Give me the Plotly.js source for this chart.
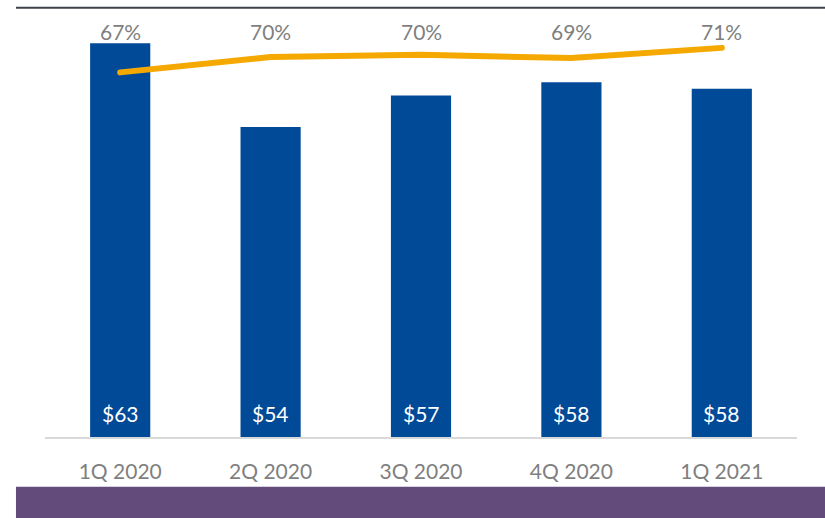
<!DOCTYPE html>
<html>
<head>
<meta charset="utf-8">
<script src="https://cdn.plot.ly/plotly-3.0.1.min.js"></script>
<style>
  html, body { margin: 0; padding: 0; background: #ffffff; }
  #chart { width: 825px; height: 518px; }
  .scatterlayer .js-line { stroke-linecap: round; }
</style>
</head>
<body>
<div id="chart"></div>
<script>
// Data
const categories = ["1Q 2020", "2Q 2020", "3Q 2020", "4Q 2020", "1Q 2021"];
const revenue = [62.6, 53.6, 57.0, 58.4, 57.7];      // bars, $ (labels rounded)
const marginPct = [67.4, 69.6, 69.9, 69.45, 70.9];   // line, % (labels rounded)

const FONT = "Lato, 'Open Sans', 'DejaVu Sans', sans-serif";
const BAR_COLOR = "#004a98";
const LINE_COLOR = "#f5a800";
const GREY = "#7f7f7f";

const barTrace = {
  type: "bar",
  x: categories,
  y: revenue,
  marker: { color: BAR_COLOR },
  hoverinfo: "skip",
  yaxis: "y"
};

const lineTrace = {
  type: "scatter",
  mode: "lines",
  x: categories,
  y: marginPct,
  line: { color: LINE_COLOR, width: 6 },
  hoverinfo: "skip",
  yaxis: "y2"
};

const annotations = [];
categories.forEach((c, i) => {
  annotations.push({
    x: c, xref: "x", y: 0.949, yref: "paper",
    text: Math.round(marginPct[i]) + "%",
    showarrow: false, xanchor: "center", yanchor: "middle",
    font: { family: FONT, size: 21, color: GREY }
  });
  annotations.push({
    x: c, xref: "x", y: 0.0562, yref: "paper",
    text: "$" + Math.round(revenue[i]),
    showarrow: false, xanchor: "center", yanchor: "middle",
    font: { family: FONT, size: 21, color: "#ffffff" }
  });
});

const layout = {
  width: 825,
  height: 518,
  margin: { l: 45, r: 28, t: 10, b: 81, pad: 0 },
  paper_bgcolor: "#ffffff",
  plot_bgcolor: "#ffffff",
  showlegend: false,
  bargap: 0.6,
  font: { family: FONT, color: GREY },
  xaxis: {
    type: "category",
    showgrid: false,
    zeroline: false,
    showline: true,
    linecolor: "#d9d9d9",
    linewidth: 2,
    ticks: "outside",
    ticklen: 15,
    tickcolor: "rgba(0,0,0,0)",
    tickfont: { family: FONT, size: 21, color: GREY },
    fixedrange: true
  },
  yaxis: {
    range: [20.27, 66.18],
    visible: false,
    showgrid: false,
    zeroline: false,
    fixedrange: true
  },
  yaxis2: {
    range: [15.31, 76.31],
    overlaying: "y",
    side: "right",
    visible: false,
    showgrid: false,
    zeroline: false,
    fixedrange: true
  },
  shapes: [
    { type: "line", xref: "paper", yref: "paper",
      x0: -0.0386, x1: 1.04, y0: 1.0055, y1: 1.0055,
      line: { color: "#3c4248", width: 2 } },
    { type: "rect", xref: "paper", yref: "paper",
      x0: -0.0386, x1: 1.04, y0: -0.1164, y1: -0.2,
      fillcolor: "#634c7b", line: { width: 0 } }
  ],
  annotations: annotations
};

Plotly.newPlot("chart", [barTrace, lineTrace], layout, { displayModeBar: false, staticPlot: true });
</script>
</body>
</html>
